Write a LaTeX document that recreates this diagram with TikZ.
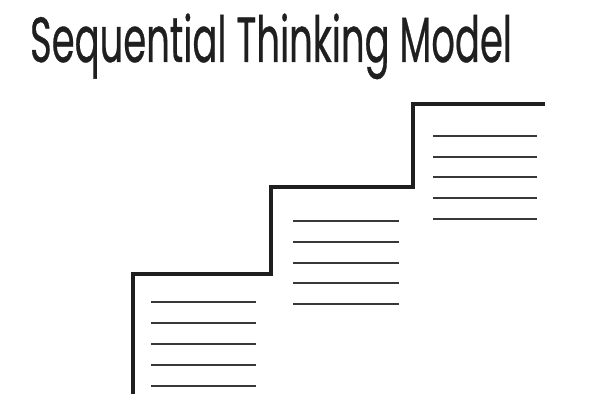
\documentclass[tikz,border=0pt]{standalone}
\usepackage{fontspec}
\setmainfont{Poppins}[FakeBold=0.6]
\usepackage{graphicx}
\begin{document}
\begin{tikzpicture}[x=1pt,y=-1pt,
  stair/.style={line width=3.8pt,color=black!88,line join=miter},
  rule/.style={line width=2.8pt,color=black!78},
  title/.style={inner sep=0pt,anchor=base,text=black!88}]
\useasboundingbox (0,0) rectangle (616,396);
\node[title] (t) at (271,62) {\resizebox{482pt}{48.5pt}{\fontsize{40}{48}\selectfont Sequential Thinking Model}};
% staircase
\coordinate (s0) at (133,394);
\coordinate (s1) at (133,274);
\coordinate (s2) at (271,274);
\coordinate (s3) at (271,187);
\coordinate (s4) at (413,187);
\coordinate (s5) at (413,104);
\coordinate (s6) at (545,104);
\draw[stair] (s0) -- (s1) -- (s2) -- (s3) -- (s4) -- (s5) -- (s6);
% rules, step 1
\foreach \y [count=\i] in {302,323,344,365,386}{
  \coordinate (a\i l) at (151,\y); \coordinate (a\i r) at (256,\y);
  \draw[rule] (a\i l) -- (a\i r);}
% rules, step 2
\foreach \y [count=\i] in {221,242,263,283,304}{
  \coordinate (b\i l) at (293,\y); \coordinate (b\i r) at (399,\y);
  \draw[rule] (b\i l) -- (b\i r);}
% rules, step 3
\foreach \y [count=\i] in {136,157,177,198,219}{
  \coordinate (c\i l) at (433,\y); \coordinate (c\i r) at (537,\y);
  \draw[rule] (c\i l) -- (c\i r);}
\end{tikzpicture}
\end{document}
